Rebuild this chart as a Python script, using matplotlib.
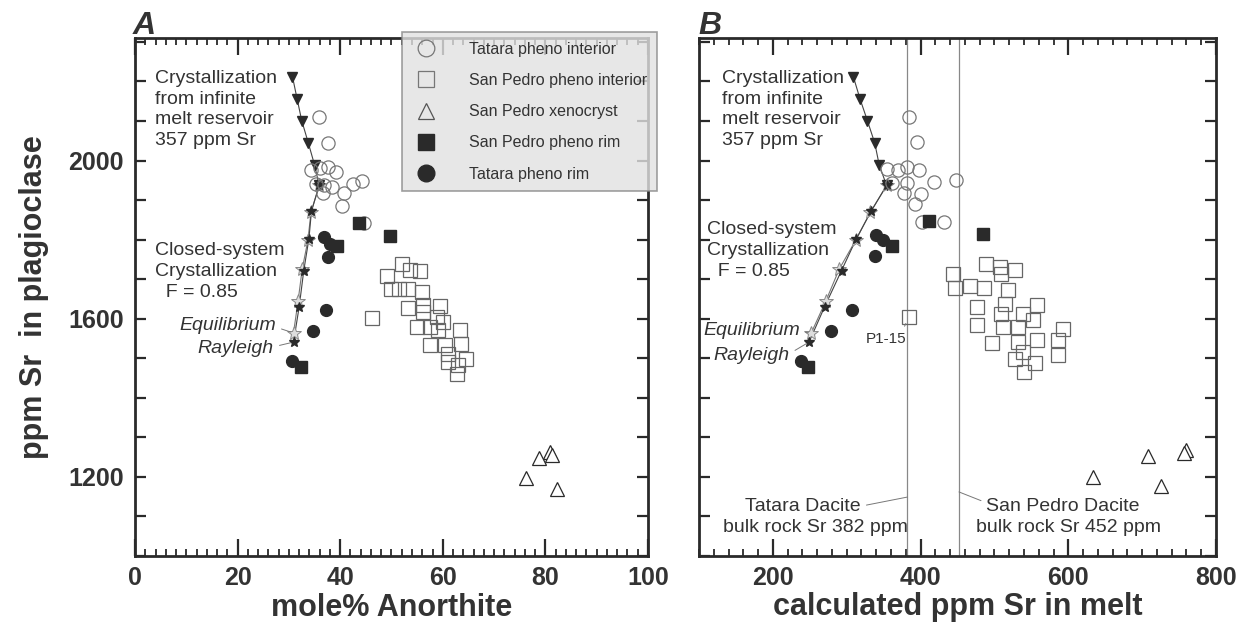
import matplotlib
matplotlib.use("Agg")
import matplotlib.pyplot as plt
from matplotlib.lines import Line2D
from matplotlib.ticker import MultipleLocator, FuncFormatter

plt.rcParams['font.family'] = ['Liberation Sans', 'DejaVu Sans']

# model curves (shared ppm Sr in plagioclase)
model_inf_sr = [2212, 2156, 2101, 2044, 1989, 1937]
model_ray_sr = [1937, 1872, 1802, 1722, 1630, 1541]
model_eq_sr = [1937, 1869, 1798, 1726, 1646, 1564]

# panel A: mole% anorthite
a_inf_an = [30.7, 31.6, 32.5, 33.8, 35.0, 35.9]
a_ray_an = [35.9, 34.4, 33.9, 32.9, 32.0, 30.9]
a_eq_an = [35.9, 34.3, 33.7, 32.6, 31.8, 30.9]

a_ti_an = [35.9, 37.6, 34.3, 36.0, 37.6, 39.1, 35.3, 36.8, 38.4, 40.7, 42.4, 44.2, 36.6, 40.3, 44.6]
a_ti_sr = [2109, 2045, 1975, 1982, 1985, 1970, 1942, 1937, 1932, 1919, 1942, 1949, 1917, 1884, 1841]

a_spi_an = [46.2, 52.0, 53.6, 55.6, 49.1, 49.9, 51.4, 53.3, 55.9, 53.3, 56.2, 56.2, 59.4, 58.8,
            60.1, 54.9, 57.5, 59.1, 63.3, 57.5, 60.4, 63.6, 61.0, 64.6, 61.0, 63.0, 62.7]
a_spi_sr = [1602, 1739, 1724, 1722, 1707, 1676, 1676, 1676, 1667, 1628, 1634, 1617, 1631, 1604,
            1592, 1579, 1579, 1571, 1571, 1533, 1533, 1537, 1512, 1499, 1491, 1482, 1461]

a_xeno_an = [76.2, 78.8, 80.9, 81.3, 82.3]
a_xeno_sr = [1198, 1247, 1264, 1256, 1170]

a_spr_an = [43.6, 49.7, 39.3, 32.3]
a_spr_sr = [1843, 1809, 1783, 1478]

a_tr_an = [36.8, 38.0, 37.6, 37.2, 34.7, 30.6]
a_tr_sr = [1806, 1788, 1755, 1621, 1568, 1492]

# panel B: calculated ppm Sr in melt
b_inf_x = [309, 318, 328, 338, 344, 354]
b_ray_x = [354, 333, 313, 293, 270, 249]
b_eq_x = [354, 332, 312, 290, 272, 252]

b_ti_x = [384, 395, 354, 370, 382, 398, 361, 382, 418, 448, 377, 400, 393, 402, 432]
b_ti_sr = [2111, 2046, 1979, 1975, 1985, 1975, 1943, 1943, 1945, 1952, 1917, 1916, 1890, 1844, 1844]

b_spi_x = [444, 447, 467, 486, 489, 508, 509, 528, 518, 476, 514, 509, 539, 558, 552,
           477, 512, 532, 593, 586, 497, 532, 557, 539, 528, 555, 540, 586, 384]
b_spi_sr = [1712, 1679, 1682, 1679, 1739, 1731, 1714, 1724, 1672, 1630, 1638, 1613, 1613, 1634, 1598,
            1583, 1579, 1579, 1575, 1545, 1539, 1541, 1545, 1516, 1499, 1487, 1466, 1508, 1604]

b_xeno_x = [633, 708, 760, 757, 726]
b_xeno_sr = [1199, 1253, 1269, 1261, 1177]

b_spr_x = [411, 484, 361, 248]
b_spr_sr = [1846, 1815, 1783, 1478]

b_tr_x = [339, 349, 338, 307, 279, 238]
b_tr_sr = [1811, 1798, 1758, 1623, 1569, 1492]

bulk_tatara = 382
bulk_sanpedro = 452

dark = '#2a2a2a'
txt = '#333333'

fig = plt.figure(figsize=(12.53, 6.32), dpi=100)
axA = fig.add_axes([135 / 1253, 1 - 556 / 632, 513 / 1253, 518 / 632])
axB = fig.add_axes([699 / 1253, 1 - 556 / 632, 517 / 1253, 518 / 632])


def draw_samples(ax, ti, spi, xeno, spr, tr):
    ax.plot(*ti, 'o', ms=9.5, mfc='none', mec='#777777', mew=0.9, ls='none')
    ax.plot(*spi, 's', ms=9.5, mfc='none', mec='#666666', mew=0.9, ls='none')
    ax.plot(*xeno, '^', ms=10, mfc='white', mec=dark, mew=0.9, ls='none')
    ax.plot(*spr, 's', ms=9, mfc=dark, mec=dark, ls='none')
    ax.plot(*tr, 'o', ms=8.5, mfc=dark, mec=dark, ls='none')


def draw_model(ax, inf_x, ray_x, eq_x):
    ax.plot(inf_x, model_inf_sr, '-', color='#444444', lw=0.8)
    ax.plot(inf_x, model_inf_sr, 'v', ms=6.5, color=dark, ls='none')
    ax.plot(eq_x, model_eq_sr, '-', color='#777777', lw=0.8)
    ax.plot(ray_x, model_ray_sr, '-', color='#444444', lw=0.8)
    ax.plot(eq_x, model_eq_sr, '*', ms=10, mfc='#dddddd', mec='#888888', mew=0.7, ls='none')
    ax.plot(ray_x, model_ray_sr, '*', ms=7.5, color=dark, ls='none')


draw_model(axA, a_inf_an, a_ray_an, a_eq_an)
draw_samples(axA, (a_ti_an, a_ti_sr), (a_spi_an, a_spi_sr), (a_xeno_an, a_xeno_sr),
             (a_spr_an, a_spr_sr), (a_tr_an, a_tr_sr))

axB.axvline(bulk_tatara, color='#888888', lw=0.9)
axB.axvline(bulk_sanpedro, color='#888888', lw=0.9)
draw_model(axB, b_inf_x, b_ray_x, b_eq_x)
draw_samples(axB, (b_ti_x, b_ti_sr), (b_spi_x, b_spi_sr), (b_xeno_x, b_xeno_sr),
             (b_spr_x, b_spr_sr), (b_tr_x, b_tr_sr))

axA.set_xlim(0, 100)
axB.set_xlim(100, 800)
for ax in (axA, axB):
    ax.set_ylim(1000, 2310)
    for s in ax.spines.values():
        s.set_linewidth(2)
        s.set_color(dark)
    ax.yaxis.set_major_locator(MultipleLocator(100))
    ax.tick_params(which='both', direction='in', top=True, right=True,
                   width=1.6, color=dark, labelcolor=txt)
    ax.tick_params(axis='x', which='major', length=12, pad=7)
    ax.tick_params(axis='x', which='minor', length=5, width=1.3)
    ax.tick_params(axis='y', which='major', length=8, pad=8)

axA.xaxis.set_major_locator(MultipleLocator(20))
axA.xaxis.set_minor_locator(MultipleLocator(2))
axB.xaxis.set_major_locator(MultipleLocator(200))
axB.xaxis.set_minor_locator(MultipleLocator(20))
axA.yaxis.set_major_formatter(FuncFormatter(lambda v, p: '%d' % v if v % 400 == 0 else ''))
axB.yaxis.set_major_formatter(FuncFormatter(lambda v, p: ''))
for ax in (axA, axB):
    for lab in ax.get_xticklabels() + ax.get_yticklabels():
        lab.set_fontweight('bold')
        lab.set_fontsize(18)

axA.set_xlabel('mole% Anorthite', fontsize=22, fontweight='bold', color=txt, labelpad=2)
axB.set_xlabel('calculated ppm Sr in melt', fontsize=22, fontweight='bold', color=txt, labelpad=2)
axA.set_ylabel('ppm Sr  in plagioclase', fontsize=22, fontweight='bold', color=txt, labelpad=14)

axA.text(-0.005, 1.008, 'A', transform=axA.transAxes, fontsize=23, fontweight='bold',
         fontstyle='italic', color=txt)
axB.text(-0.002, 1.008, 'B', transform=axB.transAxes, fontsize=23, fontweight='bold',
         fontstyle='italic', color=txt)

# annotations panel A
axA.text(3.9, 2230, 'Crystallization\nfrom infinite\nmelt reservoir\n357 ppm Sr',
         fontsize=14, color=txt, va='top', ha='left', linespacing=1.3)
axA.text(3.9, 1793, 'Closed-system\nCrystallization\n  F = 0.85',
         fontsize=14, color=txt, va='top', ha='left', linespacing=1.3)
axA.annotate('Equilibrium', xy=(a_eq_an[-1], model_eq_sr[-1]), xytext=(27.5, 1583),
             fontsize=14, fontstyle='italic', color=txt, ha='right', va='center',
             arrowprops=dict(arrowstyle='-', color='#777777', lw=0.7, relpos=(1, 0.4)))
axA.annotate('Rayleigh', xy=(a_ray_an[-1], model_ray_sr[-1]), xytext=(27.1, 1525),
             fontsize=14, fontstyle='italic', color=txt, ha='right', va='center',
             arrowprops=dict(arrowstyle='-', color='#777777', lw=0.7, relpos=(1, 0.6)))

# annotations panel B
axB.text(131, 2230, 'Crystallization\nfrom infinite\nmelt reservoir\n357 ppm Sr',
         fontsize=14, color=txt, va='top', ha='left', linespacing=1.3)
axB.text(111, 1846, 'Closed-system\nCrystallization\n  F = 0.85',
         fontsize=14, color=txt, va='top', ha='left', linespacing=1.3)
axB.annotate('Equilibrium', xy=(b_eq_x[-1], model_eq_sr[-1]), xytext=(237, 1571),
             fontsize=14, fontstyle='italic', color=txt, ha='right', va='center',
             arrowprops=dict(arrowstyle='-', color='#777777', lw=0.7, relpos=(1, 0.4)))
axB.annotate('Rayleigh', xy=(b_ray_x[-1], model_ray_sr[-1]), xytext=(223, 1508),
             fontsize=14, fontstyle='italic', color=txt, ha='right', va='center',
             arrowprops=dict(arrowstyle='-', color='#777777', lw=0.7, relpos=(1, 0.6)))
axB.annotate('P1-15', xy=(b_spi_x[-1], b_spi_sr[-1]), xytext=(353, 1550),
             fontsize=11, color=txt, ha='center', va='center',
             arrowprops=dict(arrowstyle='-', color='#777777', lw=0.7, relpos=(0.9, 1),
                             shrinkB=5))
axB.annotate('Tatara Dacite', xy=(bulk_tatara, 1149), xytext=(241, 1126),
             fontsize=14, color=txt, ha='center', va='center',
             arrowprops=dict(arrowstyle='-', color='#777777', lw=0.7, relpos=(1, 0.5), shrinkB=0))
axB.text(257, 1073, 'bulk rock Sr 382 ppm', fontsize=14, color=txt, ha='center', va='center')
axB.annotate('San Pedro Dacite', xy=(bulk_sanpedro, 1162), xytext=(593, 1126),
             fontsize=14, color=txt, ha='center', va='center',
             arrowprops=dict(arrowstyle='-', color='#777777', lw=0.7, relpos=(0, 0.7), shrinkB=0))
axB.text(600, 1071, 'bulk rock Sr 452 ppm', fontsize=14, color=txt, ha='center', va='center')

# legend
handles = [
    Line2D([], [], marker='o', ms=12, mfc='none', mec='#777777', mew=0.9, ls='none'),
    Line2D([], [], marker='s', ms=12, mfc='none', mec='#777777', mew=0.9, ls='none'),
    Line2D([], [], marker='^', ms=12, mfc='none', mec='#555555', mew=0.9, ls='none'),
    Line2D([], [], marker='s', ms=12, mfc=dark, mec=dark, ls='none'),
    Line2D([], [], marker='o', ms=12, mfc=dark, mec=dark, ls='none'),
]
labels = ['Tatara pheno interior', 'San Pedro pheno interior', 'San Pedro xenocryst',
          'San Pedro pheno rim', 'Tatara pheno rim']
leg = fig.legend(handles, labels, loc='upper left', bbox_to_anchor=(402 / 1253, 1 - 32 / 632),
                 borderaxespad=0, fontsize=11.5, frameon=True, fancybox=False,
                 borderpad=0.6, handlelength=1.8, handletextpad=1.8, labelspacing=1.02)
leg.get_frame().set_facecolor('#e2e2e2')
leg.get_frame().set_edgecolor('#888888')
leg.get_frame().set_linewidth(1.2)
for t in leg.get_texts():
    t.set_color(txt)

fig.savefig('out.png', dpi=100)
